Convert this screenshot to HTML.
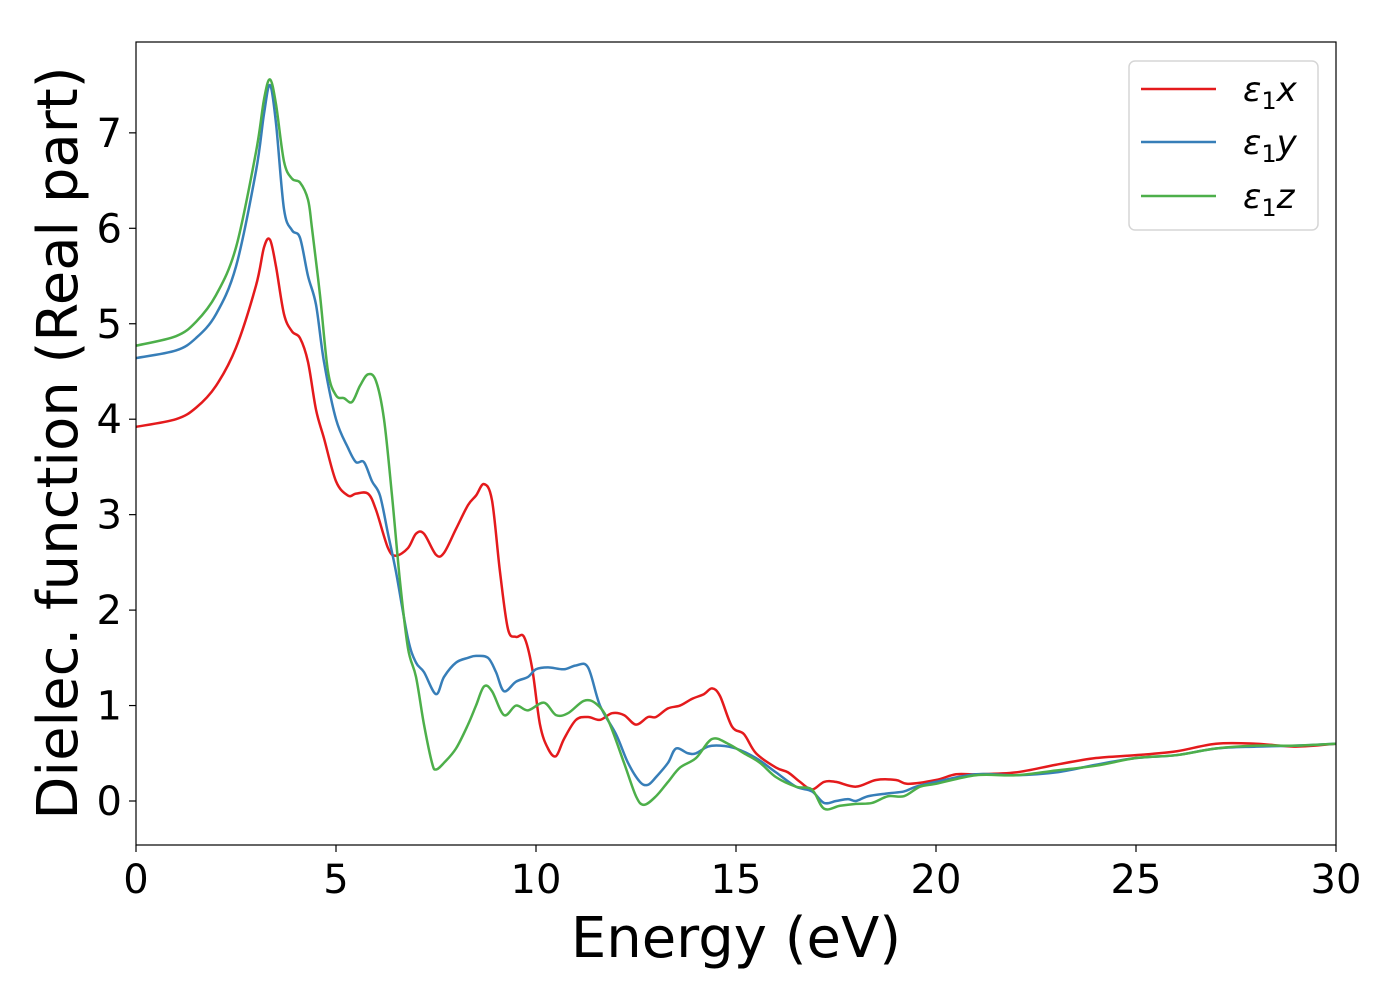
<!DOCTYPE html>
<html><head><meta charset="utf-8">
<style>
html,body{margin:0;padding:0;background:#fff;}
svg{display:block;font-family:"DejaVu Sans","Liberation Sans",sans-serif;}
</style></head>
<body>
<svg id="chart" width="1400" height="1000" viewBox="0 0 1400 1000" xmlns="http://www.w3.org/2000/svg">
<defs><clipPath id="plotclip"><rect x="136" y="42" width="1200" height="803"/></clipPath></defs>
<rect x="0" y="0" width="1400" height="1000" fill="#fff"/>
<g id="xticks"></g>
<g id="yticks"></g>
<g id="series" clip-path="url(#plotclip)"></g>
<rect x="136" y="42" width="1200" height="803" fill="none" stroke="#000" stroke-width="1.2"/>
<text x="736" y="957" font-size="56" text-anchor="middle">Energy (eV)</text>
<text transform="translate(77,443) rotate(-90)" font-size="56" text-anchor="middle">Dielec. function (Real part)</text>
<g>
<rect x="1129" y="61" width="189" height="169" rx="6" fill="#fff" stroke="#d6d6d6" stroke-width="1.5"/>
<g>
<line x1="1141" y1="89" x2="1216" y2="89" stroke="#e41a1c" stroke-width="2.5"/>
<text x="1243" y="101" font-size="34" font-style="italic">ε<tspan font-style="normal" font-size="24" dy="8">1</tspan><tspan dy="-8">x</tspan></text>
</g>
<g>
<line x1="1141" y1="142" x2="1216" y2="142" stroke="#377eb8" stroke-width="2.5"/>
<text x="1243" y="154" font-size="34" font-style="italic">ε<tspan font-style="normal" font-size="24" dy="8">1</tspan><tspan dy="-8">y</tspan></text>
</g>
<g>
<line x1="1141" y1="196" x2="1216" y2="196" stroke="#4daf4a" stroke-width="2.5"/>
<text x="1243" y="208" font-size="34" font-style="italic">ε<tspan font-style="normal" font-size="24" dy="8">1</tspan><tspan dy="-8">z</tspan></text>
</g>
</g>
</svg>
<script>
const xTicks = [0, 5, 10, 15, 20, 25, 30];
const yTicks = [0, 1, 2, 3, 4, 5, 6, 7];
const xEnergy = [0,1,1.5,2,2.5,3,3.2,3.35,3.5,3.7,3.9,4.1,4.3,4.5,4.7,5,5.3,5.5,5.8,6,6.3,6.5,6.8,7,7.2,7.5,7.7,8,8.3,8.5,8.7,8.9,9.1,9.3,9.5,9.7,9.9,10.1,10.3,10.5,10.7,11,11.3,11.6,11.9,12.2,12.5,12.8,13,13.3,13.6,13.9,14.2,14.4,14.6,14.9,15.2,15.5,16,16.3,16.6,16.9,17.2,17.5,18,18.5,19,19.3,20,20.5,21,22,23,24,25,26,27,28,29,30];
const epsX = [3.92,4.0,4.12,4.35,4.75,5.4,5.8,5.88,5.6,5.1,4.92,4.85,4.6,4.1,3.8,3.35,3.2,3.22,3.22,3.05,2.65,2.57,2.65,2.8,2.8,2.58,2.6,2.85,3.1,3.2,3.32,3.15,2.4,1.8,1.72,1.72,1.4,0.8,0.55,0.47,0.65,0.85,0.88,0.85,0.92,0.9,0.8,0.88,0.88,0.97,1.0,1.07,1.12,1.18,1.1,0.78,0.7,0.5,0.35,0.3,0.2,0.12,0.2,0.2,0.15,0.22,0.22,0.18,0.22,0.28,0.28,0.3,0.38,0.45,0.48,0.52,0.6,0.6,0.57,0.6];
const yEnergy = [0,1,1.5,2,2.5,3,3.2,3.35,3.5,3.7,3.9,4.1,4.3,4.5,4.7,5,5.3,5.5,5.7,5.9,6.1,6.3,6.5,6.8,7,7.2,7.5,7.7,8,8.3,8.5,8.8,9,9.2,9.5,9.8,10,10.3,10.7,11,11.3,11.6,12,12.3,12.6,12.8,13,13.3,13.5,13.8,14,14.3,14.6,15,15.5,16,16.5,16.9,17.2,17.5,17.8,18,18.3,18.8,19.2,19.5,20,21,22,23,24,25,26,27,28,29,30];
const epsY = [4.64,4.72,4.85,5.1,5.6,6.6,7.2,7.5,7.1,6.2,5.98,5.9,5.5,5.2,4.6,4.0,3.7,3.55,3.55,3.35,3.2,2.8,2.4,1.7,1.45,1.35,1.12,1.3,1.45,1.5,1.52,1.5,1.35,1.15,1.25,1.3,1.38,1.4,1.38,1.42,1.4,1.0,0.7,0.4,0.2,0.17,0.25,0.4,0.55,0.5,0.5,0.57,0.58,0.55,0.45,0.3,0.15,0.1,-0.02,0.0,0.02,0.0,0.05,0.08,0.1,0.15,0.2,0.28,0.27,0.3,0.38,0.45,0.48,0.55,0.57,0.58,0.6];
const zEnergy = [0,1,1.5,2,2.5,3,3.2,3.35,3.5,3.7,3.9,4.1,4.3,4.4,4.6,4.8,5,5.2,5.4,5.6,5.8,6,6.2,6.4,6.6,6.8,7,7.2,7.4,7.5,7.7,8,8.3,8.5,8.7,8.9,9.2,9.5,9.8,10.2,10.5,10.8,11.2,11.5,11.8,12.2,12.5,12.7,13,13.3,13.6,14,14.4,14.8,15.2,15.6,16,16.5,16.9,17.2,17.6,18,18.4,18.8,19.2,19.6,20,21,22,23,24,25,26,27,28,29,30];
const epsZ = [4.77,4.87,5.02,5.3,5.8,6.8,7.35,7.56,7.3,6.7,6.52,6.48,6.3,6.0,5.3,4.5,4.25,4.22,4.18,4.35,4.47,4.4,4.0,3.2,2.3,1.6,1.3,0.8,0.4,0.33,0.4,0.55,0.8,1.0,1.2,1.15,0.9,1.0,0.95,1.03,0.9,0.92,1.05,1.02,0.85,0.4,0.05,-0.04,0.05,0.2,0.35,0.45,0.65,0.6,0.5,0.4,0.25,0.15,0.12,-0.08,-0.05,-0.03,-0.02,0.05,0.05,0.15,0.18,0.27,0.27,0.32,0.37,0.45,0.48,0.55,0.58,0.58,0.6];

const NS = "http://www.w3.org/2000/svg";
const X0 = 136, X1 = 1336, XMIN = 0, XMAX = 30;
const YZERO = 801, YPER = 95.45;
function sx(v){ return X0 + (v - XMIN) / (XMAX - XMIN) * (X1 - X0); }
function sy(v){ return YZERO - v * YPER; }

const xg = document.getElementById('xticks');
xTicks.forEach(t => {
  const l = document.createElementNS(NS, 'line');
  l.setAttribute('x1', sx(t)); l.setAttribute('x2', sx(t));
  l.setAttribute('y1', 845); l.setAttribute('y2', 852);
  l.setAttribute('stroke', '#000'); l.setAttribute('stroke-width', '1.2');
  
  
  xg.appendChild(l);
  const tx = document.createElementNS(NS, 'text');
  tx.setAttribute('x', sx(t)); tx.setAttribute('y', 893);
  tx.setAttribute('font-size', '40'); tx.setAttribute('text-anchor', 'middle');
  tx.textContent = t;
  
  
  xg.appendChild(tx);
});
const yg = document.getElementById('yticks');
yTicks.forEach(t => {
  const l = document.createElementNS(NS, 'line');
  l.setAttribute('x1', 129); l.setAttribute('x2', 136);
  l.setAttribute('y1', sy(t)); l.setAttribute('y2', sy(t));
  l.setAttribute('stroke', '#000'); l.setAttribute('stroke-width', '1.2');
  
  
  yg.appendChild(l);
  const tx = document.createElementNS(NS, 'text');
  tx.setAttribute('x', 122); tx.setAttribute('y', sy(t) + 14);
  tx.setAttribute('font-size', '40'); tx.setAttribute('text-anchor', 'end');
  tx.textContent = t;
  
  
  yg.appendChild(tx);
});

function smoothPath(xs, ys){
  const p = xs.map((x, i) => [sx(x), sy(ys[i])]);
  let d = 'M' + p[0][0].toFixed(2) + ',' + p[0][1].toFixed(2);
  for (let i = 0; i < p.length - 1; i++) {
    const p0 = p[Math.max(0, i - 1)], p1 = p[i], p2 = p[i + 1], p3 = p[Math.min(p.length - 1, i + 2)];
    const c1x = p1[0] + (p2[0] - p0[0]) / 6, c1y = p1[1] + (p2[1] - p0[1]) / 6;
    const c2x = p2[0] - (p3[0] - p1[0]) / 6, c2y = p2[1] - (p3[1] - p1[1]) / 6;
    d += 'C' + c1x.toFixed(2) + ',' + c1y.toFixed(2) + ' ' + c2x.toFixed(2) + ',' + c2y.toFixed(2) + ' ' + p2[0].toFixed(2) + ',' + p2[1].toFixed(2);
  }
  return d;
}
const sg = document.getElementById('series');
[[xEnergy, epsX, '#e41a1c', 'line-eps1-x'], [yEnergy, epsY, '#377eb8', 'line-eps1-y'], [zEnergy, epsZ, '#4daf4a', 'line-eps1-z']].forEach(s => {
  const path = document.createElementNS(NS, 'path');
  path.setAttribute('d', smoothPath(s[0], s[1]));
  path.setAttribute('fill', 'none');
  path.setAttribute('stroke', s[2]);
  path.setAttribute('stroke-width', '2.5');
  path.setAttribute('stroke-linejoin', 'round');
  
  
  sg.appendChild(path);
});
</script>
</body></html>
